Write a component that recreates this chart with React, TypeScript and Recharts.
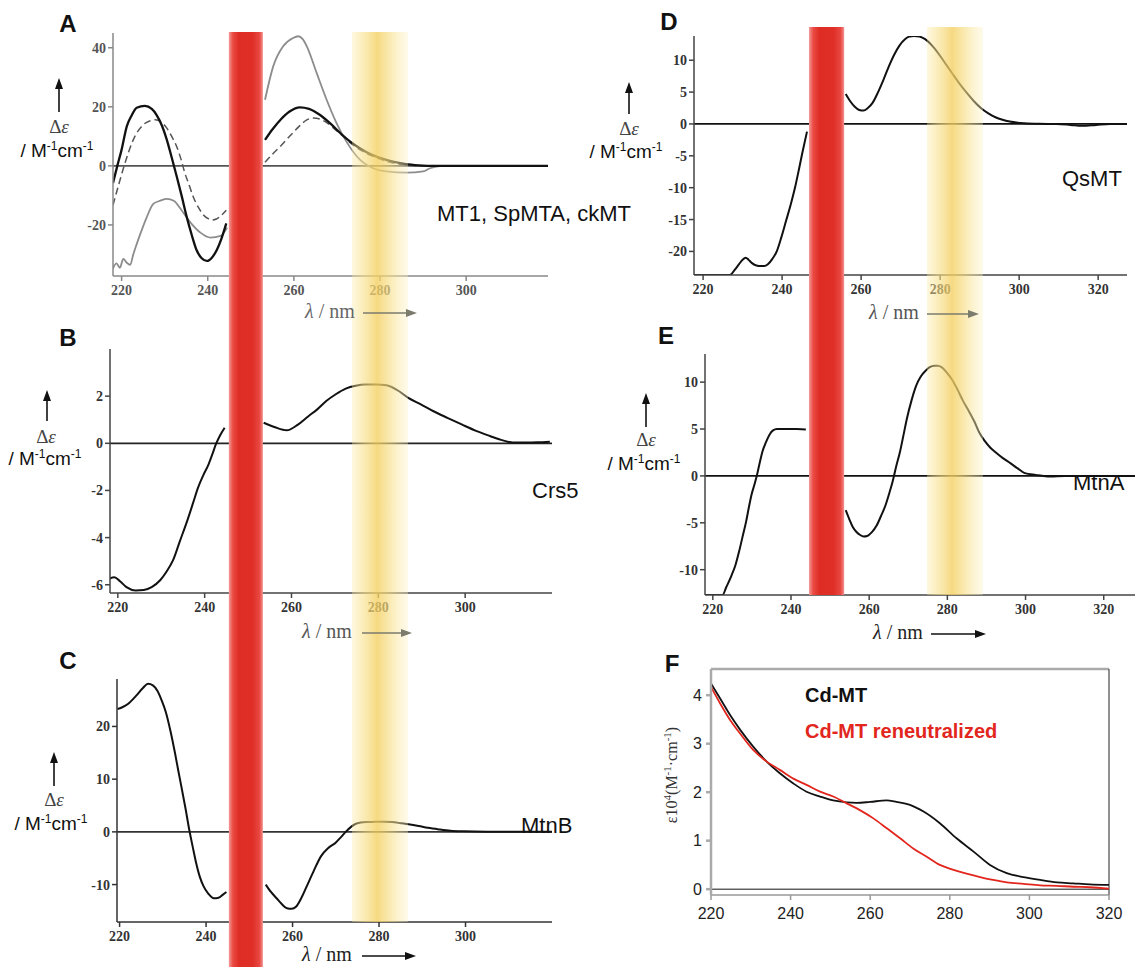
import React from 'react';
import { LineChart, Line, XAxis, YAxis, ReferenceLine } from 'recharts';

// ---- panel A : MT1 / SpMTA / ckMT ----
const aMt1X = [218, 219, 220, 221.2, 222.3, 223.5, 225.4, 227, 228.1, 229.4, 230.5, 231.6, 232.8, 234, 235.1, 236.3, 237.4, 238.6, 239.8, 241, 242.1, 243.1, 244.3, 249, 253.3, 255, 257, 259, 261.4, 263.5, 266, 268.5, 271, 273, 275.5, 278, 280, 283, 286, 289, 293, 300, 310, 319];
const aMt1Y = [-5.8, 0, 5.5, 13.4, 17, 19.7, 20.3, 19.3, 17.3, 13.5, 8.8, 3, -3.6, -10.5, -17.2, -23.5, -28.5, -31.3, -32.2, -31, -28.5, -25, -19.5, null, 8.8, 12.3, 15.8, 18.4, 19.8, 19.3, 17.3, 14.3, 10.8, 8.3, 5.8, 3.8, 2.7, 1.4, 0.6, 0.2, 0, 0, 0, 0];
const aSpX = [218, 219.2, 220.8, 222.7, 225, 226.5, 227.8, 229.2, 230.5, 231.7, 232.8, 233.8, 234.7, 235.7, 236.6, 237.8, 239, 240, 241, 242, 242.8, 244.3, 249, 253.3, 255, 257, 259, 261.1, 263, 264.5, 266.1, 267.7, 269.2, 270.8, 272.3, 273.8, 275.4, 278.4, 282.3, 286.2, 290, 300, 319];
const aSpY = [-13.3, -7, 1, 8.8, 13.9, 15.2, 15.6, 14.8, 12.8, 9.8, 6.5, 2.2, -2.5, -6.6, -10.4, -14, -16.6, -17.8, -18.3, -18, -17.2, -15, null, 1.2, 3.9, 6.8, 10, 13.2, 15.6, 16.2, 15.8, 14.6, 12.8, 10.8, 8.8, 7, 5.4, 3.2, 1.2, 0.3, 0, 0, 0];
const aCkX = [218, 218.8, 219.6, 220.4, 221.2, 222, 222.7, 223.5, 224.3, 225.8, 227.4, 229, 230.5, 232.1, 234, 236, 238.3, 240.6, 243, 244.5, 249, 253.3, 255.2, 257.5, 259.8, 261, 262, 263, 265.3, 267.6, 269.9, 272.2, 275.4, 278.4, 281.5, 286.2, 290, 291.6, 293.9, 296, 305, 319];
const aCkY = [-34.7, -33, -34.5, -31.5, -32.8, -33.5, -30, -26.5, -23.2, -17.5, -12.8, -11.8, -11.2, -11.8, -15.2, -19.2, -22.6, -24.3, -23.7, -20.9, null, 22.4, 33.7, 40.5, 43.3, 43.9, 43, 40.5, 31.4, 22.4, 14.5, 8.2, 2, -0.8, -1.9, -2.3, -1.9, -0.8, -0.1, 0, 0, 0];

// ---- panel B : Crs5 ----
const bX = [218, 219.2, 220.5, 222, 224.1, 226, 227.8, 229.8, 231.2, 232.7, 234.3, 236, 237.3, 238.5, 239.7, 240.9, 241.8, 242.6, 243.6, 244.6, 249, 253.6, 256.2, 258.9, 261.4, 263.9, 266, 268, 270.2, 272.5, 274.8, 277, 279.5, 281.9, 284.4, 286.9, 289.8, 292.6, 295.9, 299.2, 302.5, 305.7, 308, 309.8, 312, 313.9, 316.6, 319.5];
const bY = [-5.75, -5.68, -5.85, -6.1, -6.24, -6.22, -6.1, -5.8, -5.45, -4.97, -4.15, -3.28, -2.55, -1.87, -1.35, -0.89, -0.45, -0.04, 0.35, 0.66, null, 0.87, 0.68, 0.55, 0.78, 1.15, 1.45, 1.79, 2.08, 2.32, 2.44, 2.49, 2.49, 2.46, 2.25, 1.93, 1.65, 1.37, 1.08, 0.8, 0.53, 0.31, 0.16, 0.07, 0.03, 0.03, 0.04, 0.07];

// ---- panel C : MtnB ----
const cX = [219.5, 220.5, 222, 223.8, 225.4, 226.6, 227.7, 228.7, 229.7, 230.7, 231.8, 232.8, 233.6, 234.4, 235.3, 236.1, 236.9, 237.7, 238.5, 239.4, 240.5, 241.8, 242.9, 243.9, 244.7, 249, 253.8, 255, 256.3, 257.5, 258.7, 259.8, 260.8, 262, 263.3, 264.9, 266.6, 268.2, 269.9, 271.2, 272.4, 273.6, 274.8, 277, 279, 281, 283, 285, 287.2, 289.2, 291.3, 294, 296.5, 299.5, 305, 320];
const cY = [23.3, 23.6, 24.3, 25.8, 27.3, 28.1, 27.8, 26.8, 25, 22.7, 19, 15, 11.5, 8.1, 4.2, 0.44, -2.8, -5.9, -8.4, -10.3, -11.7, -12.6, -12.5, -11.9, -11.4, null, -10, -11.4, -12.6, -13.7, -14.5, -14.6, -14.2, -12.6, -10.3, -7.4, -4.6, -3.1, -2.1, -1, 0.1, 1, 1.6, 1.85, 1.9, 1.92, 1.85, 1.65, 1.4, 1.1, 0.76, 0.45, 0.22, 0.1, 0.02, 0];

// ---- panel D : QsMT ----
const dX = [217.7, 222, 226.8, 228, 229.1, 230, 230.8, 231.5, 232.3, 233.5, 234.6, 235.5, 236.4, 237.5, 238.7, 239.8, 241, 242.2, 243.3, 244.2, 245.1, 246.3, 251, 256.1, 257.2, 258.4, 259.5, 260.6, 261.7, 262.9, 264.3, 265.7, 267, 268.4, 269.7, 271.1, 272.2, 273.4, 274.8, 276.2, 277.8, 279.4, 281.2, 283, 284.8, 286.7, 288.5, 290.3, 292.1, 294, 295.8, 297.6, 301.3, 305, 309.5, 313, 315.9, 319.5, 323, 327.3];
const dY = [-23.7, -23.7, -23.7, -22.9, -22, -21.3, -21, -21.3, -21.8, -22.2, -22.3, -22.3, -22, -21.2, -19.9, -17.8, -15.2, -12.6, -9.9, -7.3, -4.6, -1.2, null, 4.7, 3.6, 2.7, 2.2, 2.1, 2.5, 3.3, 5, 7, 9, 10.9, 12.3, 13.3, 13.7, 13.8, 13.7, 13.3, 12.4, 11.2, 9.6, 8, 6.4, 4.9, 3.6, 2.5, 1.7, 1.05, 0.65, 0.37, 0.1, 0.02, 0, -0.15, -0.3, -0.15, 0, 0];

// ---- panel E : MtnA ----
const eX = [218, 220, 222.5, 223.4, 224.8, 225.8, 226.7, 227.6, 228.5, 229.2, 229.9, 230.6, 231.3, 232, 232.7, 233.6, 234.5, 235.4, 236.4, 238.7, 241.5, 243.8, 249, 254, 254.9, 255.8, 256.7, 257.7, 258.6, 259.5, 260.7, 261.9, 263, 264.2, 265.1, 266, 266.9, 267.9, 268.8, 269.7, 270.8, 272, 273.2, 274.4, 275.5, 276.7, 277.6, 278.5, 279.9, 281.3, 282.6, 284, 285.5, 286.9, 288.2, 289.6, 291, 292.4, 294.2, 296.1, 298, 299.8, 302.6, 306.3, 310, 315, 320, 328];
const eY = [-12.7, -12.7, -12.7, -11.9, -10.6, -9.5, -8.1, -6.5, -4.9, -3.4, -2, -1, 0.1, 1.4, 2.6, 3.6, 4.4, 4.85, 5, 5, 5, 4.95, null, -3.66, -4.6, -5.45, -5.95, -6.3, -6.45, -6.4, -6, -5.3, -4.3, -3.1, -1.9, -0.6, 1, 2.6, 4.4, 6.2, 8, 9.6, 10.6, 11.2, 11.6, 11.75, 11.75, 11.6, 11, 10.2, 9.2, 8, 6.9, 5.8, 4.6, 3.7, 3, 2.5, 1.9, 1.36, 0.8, 0.3, 0.1, -0.07, 0, 0, 0, 0];

// ---- panel F : absorption ----
const fCdX = [220, 222.3, 224.8, 227.3, 230.6, 234, 237.3, 240.7, 244, 247.4, 250.7, 254.1, 256.6, 260, 264.1, 266.6, 270, 273.4, 277.5, 281.7, 285.9, 290.1, 294.3, 298.5, 302.7, 306.9, 311, 315.2, 320];
const fCdY = [4.24, 3.93, 3.59, 3.29, 2.94, 2.63, 2.39, 2.18, 2.01, 1.91, 1.83, 1.79, 1.78, 1.8, 1.83, 1.8, 1.74, 1.6, 1.36, 1.05, 0.78, 0.5, 0.33, 0.25, 0.19, 0.14, 0.12, 0.1, 0.09];
const fReX = [220, 222.3, 224.8, 227.3, 230.6, 234, 237.3, 240.7, 244, 247.4, 250.7, 254.1, 257.4, 260.8, 264.1, 267.5, 270.8, 274.2, 277.5, 280.9, 284.2, 287.6, 290.9, 294.3, 298.5, 302.7, 306.9, 311, 315.2, 320];
const fReY = [4.17, 3.83, 3.49, 3.21, 2.87, 2.63, 2.46, 2.28, 2.15, 2.01, 1.91, 1.77, 1.63, 1.46, 1.26, 1.05, 0.84, 0.67, 0.5, 0.4, 0.32, 0.25, 0.19, 0.14, 0.11, 0.08, 0.07, 0.05, 0.04, 0.01];

// ticks
const ticks220to300 = [220, 240, 260, 280, 300];
const ticks220to320 = [220, 240, 260, 280, 300, 320];
const aTicksY = [-20, 0, 20, 40];
const bTicksY = [-6, -4, -2, 0, 2];
const cTicksY = [-10, 0, 10, 20];
const dTicksY = [-20, -15, -10, -5, 0, 5, 10];
const eTicksY = [-10, -5, 0, 5, 10];
const fTicksY = [0, 1, 2, 3, 4];

// highlighted wavelength windows
const redBand = [244.9, 252.8];
const yellowBand = [273.5, 286.5];
const redBandR = [244.6, 253.6];
const yellowBandR = [274.8, 289.1];

const SERIF = '"Liberation Serif", "DejaVu Serif", serif';
const SANS = '"Liberation Sans", Arial, sans-serif';

const MT = 10, MR = 10, YW = 50, XH = 30;

type Box = { left: number; top: number; w: number; h: number; xd: [number, number]; yd: [number, number] };

const boxA: Box = { left: 113, top: 33, w: 435, h: 243, xd: [218, 319], yd: [-37.3, 45] };
const boxB: Box = { left: 110, top: 349, w: 442, h: 244, xd: [218.2, 320], yd: [-6.35, 4] };
const boxC: Box = { left: 117, top: 679, w: 435, h: 243, xd: [219.4, 320], yd: [-17.1, 29] };
const boxD: Box = { left: 694, top: 36, w: 433, h: 239, xd: [217.7, 327.3], yd: [-23.7, 13.8] };
const boxE: Box = { left: 705, top: 354, w: 430, h: 241, xd: [218, 328], yd: [-12.7, 13] };
const boxF: Box = { left: 711, top: 669, w: 398, h: 226, xd: [220, 320], yd: [-0.12, 4.54] };

const sx = (b: Box, wl: number) => b.left + ((wl - b.xd[0]) / (b.xd[1] - b.xd[0])) * b.w;

const pts = (xs: number[], ys: (number | null)[]) => xs.map((x, i) => ({ x, v: ys[i] }));

type Series = { xs: number[]; ys: (number | null)[]; stroke: string; width: number; dash?: string };

function CdPanel({ box, series, xTicks, yTicks, axis, zero, tickFill }: {
  box: Box; series: Series[]; xTicks: number[]; yTicks: number[]; axis: string; zero: string; tickFill: string;
}) {
  const tick = { fontFamily: SERIF, fontWeight: 700, fontSize: 14, fill: tickFill };
  return (
    <div style={{ position: 'absolute', left: box.left - YW, top: box.top - MT }}>
      <LineChart width={box.w + YW + MR} height={box.h + MT + XH} margin={{ top: MT, right: MR, bottom: 0, left: 0 }}>
        <XAxis type="number" dataKey="x" domain={box.xd} ticks={xTicks} interval={0} allowDataOverflow
          height={XH} stroke={axis} strokeWidth={1.5} tickSize={5} tickMargin={4} tick={tick} />
        <YAxis type="number" domain={box.yd} ticks={yTicks} interval={0} allowDataOverflow
          width={YW} stroke={axis} strokeWidth={1.5} tickSize={5} tickMargin={2} tick={tick} />
        <ReferenceLine y={0} stroke={zero} strokeWidth={1.8} />
        {series.map((s, i) => (
          <Line key={i} data={pts(s.xs, s.ys)} dataKey="v" type="monotone" dot={false} activeDot={false}
            stroke={s.stroke} strokeWidth={s.width} strokeDasharray={s.dash} connectNulls={false}
            isAnimationActive={false} />
        ))}
      </LineChart>
    </div>
  );
}

function AbsPanel() {
  const b = boxF;
  const right = 24;
  const tick = { fontFamily: SANS, fontSize: 16, fill: '#222' };
  return (
    <div style={{ position: 'absolute', left: b.left - YW, top: b.top - MT }}>
      <LineChart width={b.w + YW + right} height={b.h + MT + XH} margin={{ top: MT, right, bottom: 0, left: 0 }}>
        <XAxis type="number" dataKey="x" domain={b.xd} ticks={ticks220to320} interval={0} allowDataOverflow
          height={XH} stroke="#999" strokeWidth={1.5} tickSize={5} tickMargin={8} tick={tick} />
        <YAxis type="number" domain={b.yd} ticks={fTicksY} interval={0} allowDataOverflow
          width={YW} stroke="#aaa" strokeWidth={2.5} tickSize={5} tickMargin={4} tick={tick} />
        <ReferenceLine y={b.yd[1]} stroke="#aaa" strokeWidth={2.5} ifOverflow="visible" />
        <ReferenceLine x={b.xd[1]} stroke="#555" strokeWidth={1.3} ifOverflow="visible" />
        <ReferenceLine y={0} stroke="#111" strokeWidth={1} />
        <Line data={pts(fCdX, fCdY)} dataKey="v" type="monotone" dot={false} activeDot={false}
          stroke="#111" strokeWidth={1.8} isAnimationActive={false} />
        <Line data={pts(fReX, fReY)} dataKey="v" type="monotone" dot={false} activeDot={false}
          stroke="#e2261d" strokeWidth={1.8} isAnimationActive={false} />
      </LineChart>
    </div>
  );
}

function HArrow({ x1, x2, y, color }: { x1: number; x2: number; y: number; color: string }) {
  return (
    <g>
      <line x1={x1} y1={y} x2={x2 - 8} y2={y} stroke={color} strokeWidth={1.6} />
      <polygon points={`${x2},${y} ${x2 - 11},${y - 4} ${x2 - 11},${y + 4}`} fill={color} />
    </g>
  );
}

function WaveLabel({ x, y, ax1, ax2, text, arrow }: { x: number; y: number; ax1: number; ax2: number; text: string; arrow: string }) {
  return (
    <g>
      <text x={x} y={y} fontFamily={SERIF} fontSize={20} fill={text}>
        <tspan fontStyle="italic">λ</tspan> / nm
      </text>
      <HArrow x1={ax1} x2={ax2} y={y - 5} color={arrow} />
    </g>
  );
}

function DeltaLabel({ ax, tip, bottom, dx, dy, ux, uy }: { ax: number; tip: number; bottom: number; dx: number; dy: number; ux: number; uy: number }) {
  return (
    <g>
      <line x1={ax} y1={bottom} x2={ax} y2={tip + 8} stroke="#111" strokeWidth={1.6} />
      <polygon points={`${ax},${tip} ${ax - 4},${tip + 11} ${ax + 4},${tip + 11}`} fill="#111" />
      <text x={dx} y={dy} textAnchor="middle" fontFamily={SERIF} fontSize={19} fill="#444">
        Δ<tspan fontStyle="italic">ε</tspan>
      </text>
      <text x={ux} y={uy} textAnchor="middle" fontFamily={SANS} fontSize={19} fill="#111">
        / M<tspan dy={-7} fontSize={12}>-1</tspan><tspan dy={7}>cm</tspan><tspan dy={-7} fontSize={12}>-1</tspan>
      </text>
    </g>
  );
}

function Overlay() {
  const letter = { fontFamily: SANS, fontWeight: 700, fontSize: 24, fill: '#111' } as const;
  const name = { fontFamily: SANS, fontSize: 22, fill: '#111' } as const;
  const rl = sx(boxA, redBand[0]), rr = sx(boxA, redBand[1]);
  const yl = sx(boxA, yellowBand[0]), yr = sx(boxA, yellowBand[1]);
  const rl2 = sx(boxE, redBandR[0]), rr2 = sx(boxE, redBandR[1]);
  const yl2 = sx(boxE, yellowBandR[0]), yr2 = sx(boxE, yellowBandR[1]);
  return (
    <svg width={1135} height={967} style={{ position: 'absolute', left: 0, top: 0, pointerEvents: 'none' }}>
      <defs>
        <linearGradient id="red" x1="0" x2="1" y1="0" y2="0">
          <stop offset="0" stopColor="#f39a97" />
          <stop offset="0.12" stopColor="#ea4b44" />
          <stop offset="0.3" stopColor="#de2d24" />
          <stop offset="0.7" stopColor="#df2f27" />
          <stop offset="0.9" stopColor="#e94843" />
          <stop offset="1" stopColor="#f3928e" />
        </linearGradient>
        <linearGradient id="yel" x1="0" x2="1" y1="0" y2="0">
          <stop offset="0" stopColor="#fbe9a0" stopOpacity="0.35" />
          <stop offset="0.2" stopColor="#f8e08a" stopOpacity="0.6" />
          <stop offset="0.45" stopColor="#f4cf62" stopOpacity="0.8" />
          <stop offset="0.65" stopColor="#f7dc80" stopOpacity="0.65" />
          <stop offset="1" stopColor="#fdf2c4" stopOpacity="0.35" />
        </linearGradient>
      </defs>

      <rect x={yl} y={32} width={yr - yl} height={922 - 32} fill="url(#yel)" />
      <rect x={rl} y={32} width={rr - rl} height={967 - 32} fill="url(#red)" />
      <rect x={yl2} y={27} width={yr2 - yl2} height={595 - 27} fill="url(#yel)" />
      <rect x={rl2} y={27} width={rr2 - rl2} height={595 - 27} fill="url(#red)" />

      <text x={68} y={32} textAnchor="middle" {...letter}>A</text>
      <text x={68} y={346} textAnchor="middle" {...letter}>B</text>
      <text x={68} y={669} textAnchor="middle" {...letter}>C</text>
      <text x={669} y={30} textAnchor="middle" {...letter}>D</text>
      <text x={666} y={344} textAnchor="middle" {...letter}>E</text>
      <text x={672} y={672} textAnchor="middle" {...letter}>F</text>

      <DeltaLabel ax={59} tip={78} bottom={112} dx={59} dy={133} ux={57} uy={157} />
      <DeltaLabel ax={47} tip={390} bottom={421} dx={46} dy={443} ux={45} uy={465} />
      <DeltaLabel ax={54} tip={752} bottom={786} dx={54} dy={806} ux={51} uy={830} />
      <DeltaLabel ax={629} tip={82} bottom={114} dx={629} dy={135} ux={626} uy={158} />
      <DeltaLabel ax={646} tip={393} bottom={427} dx={646} dy={446} ux={644} uy={470} />

      <WaveLabel x={305} y={318} ax1={363} ax2={417} text="#666" arrow="#7b7b6e" />
      <WaveLabel x={302} y={638} ax1={362} ax2={412} text="#555" arrow="#7b7b6e" />
      <WaveLabel x={302} y={961} ax1={362} ax2={416} text="#222" arrow="#111" />
      <WaveLabel x={869} y={319} ax1={927} ax2={979} text="#555" arrow="#7b7b6e" />
      <WaveLabel x={873} y={639} ax1={931} ax2={986} text="#222" arrow="#111" />

      <text x={437} y={221} {...name}>MT1, SpMTA, ckMT</text>
      <text x={532} y={498} {...name}>Crs5</text>
      <text x={521} y={833} {...name}>MtnB</text>
      <text x={1062} y={186} {...name}>QsMT</text>
      <text x={1073} y={490} {...name}>MtnA</text>

      <text x={805} y={702} fontFamily={SANS} fontWeight={700} fontSize={20} fill="#111">Cd-MT</text>
      <text x={805} y={738} fontFamily={SANS} fontWeight={700} fontSize={20} fill="#e2261d">Cd-MT reneutralized</text>
      <text transform="translate(677,775) rotate(-90)" textAnchor="middle" fontFamily={SERIF} fontSize={16} fill="#333">
        ε10<tspan dy={-6} fontSize={11}>4</tspan><tspan dy={6}>(M</tspan><tspan dy={-6} fontSize={11}>-1</tspan>
        <tspan dy={6}>·cm</tspan><tspan dy={-6} fontSize={11}>-1</tspan><tspan dy={6}>)</tspan>
      </text>
    </svg>
  );
}

export default function App() {
  return (
    <div style={{ position: 'absolute', left: 0, top: 0, width: 1135, height: 967, background: '#fff', overflow: 'hidden' }}>
      <CdPanel box={boxA} xTicks={ticks220to300} yTicks={aTicksY} axis="#888" zero="#555" tickFill="#555"
        series={[
          { xs: aCkX, ys: aCkY, stroke: '#8c8c8c', width: 1.8 },
          { xs: aSpX, ys: aSpY, stroke: '#555', width: 1.5, dash: '7 4' },
          { xs: aMt1X, ys: aMt1Y, stroke: '#111', width: 2.3 },
        ]} />
      <CdPanel box={boxB} xTicks={ticks220to300} yTicks={bTicksY} axis="#444" zero="#222" tickFill="#333"
        series={[{ xs: bX, ys: bY, stroke: '#111', width: 2 }]} />
      <CdPanel box={boxC} xTicks={ticks220to300} yTicks={cTicksY} axis="#333" zero="#333" tickFill="#333"
        series={[{ xs: cX, ys: cY, stroke: '#111', width: 2 }]} />
      <CdPanel box={boxD} xTicks={ticks220to320} yTicks={dTicksY} axis="#444" zero="#111" tickFill="#333"
        series={[{ xs: dX, ys: dY, stroke: '#111', width: 2 }]} />
      <CdPanel box={boxE} xTicks={ticks220to320} yTicks={eTicksY} axis="#444" zero="#111" tickFill="#333"
        series={[{ xs: eX, ys: eY, stroke: '#111', width: 2 }]} />
      <AbsPanel />
      <Overlay />
    </div>
  );
}
